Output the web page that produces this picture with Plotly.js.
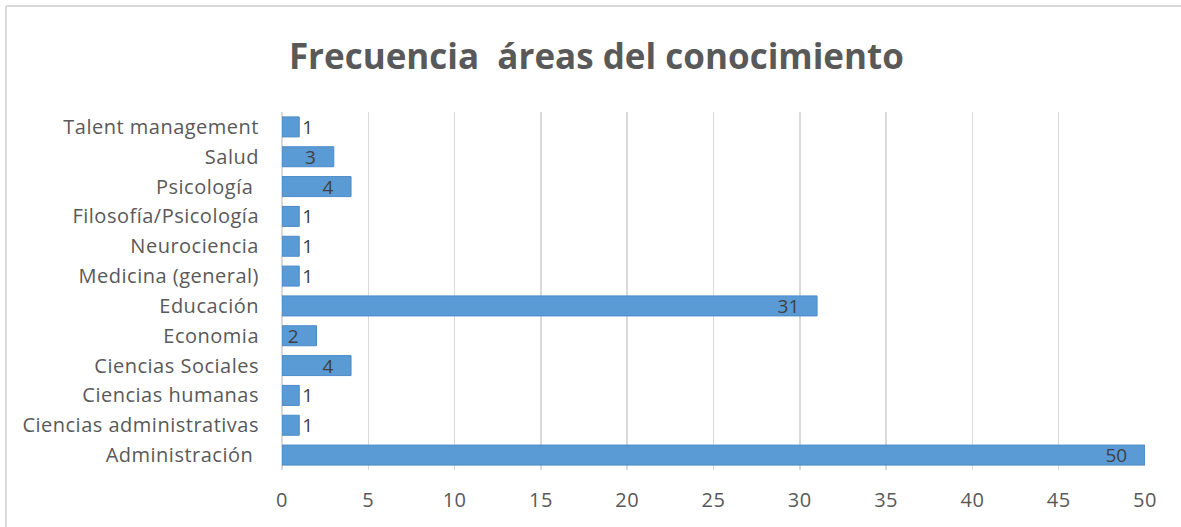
<!DOCTYPE html>
<html>
<head>
<meta charset="utf-8">
<script src="https://cdn.plot.ly/plotly-3.0.1.min.js"></script>
<style>
html,body{margin:0;padding:0;background:#fff;}
#chart{width:1181px;height:527px;}
#chart .ytick text, #chart .xtick text{letter-spacing:0.5px;}
</style>
</head>
<body>
<div id="chart"></div>
<script>
var categories = [
  "Administración ",
  "Ciencias administrativas",
  "Ciencias humanas",
  "Ciencias Sociales",
  "Economia",
  "Educación",
  "Medicina (general)",
  "Neurociencia",
  "Filosofía/Psicología",
  "Psicología ",
  "Salud",
  "Talent management"
];
var values = [50, 1, 1, 4, 2, 31, 1, 1, 1, 4, 3, 1];
var xTicks = [0, 5, 10, 15, 20, 25, 30, 35, 40, 45, 50];

var FONT = "'Open Sans', 'DejaVu Sans', sans-serif";

var trace = {
  type: "bar",
  orientation: "h",
  y: categories,
  x: values,
  text: values.map(function(v){ return v <= 1 ? String(v) : String(v) + "\u00a0\u00a0\u00a0"; }),
  textposition: values.map(function(v){ return v <= 1 ? "outside" : "inside"; }),
  insidetextanchor: "end",
  textangle: 0,
  constraintext: "none",
  cliponaxis: false,
  textfont: {family: FONT, size: 19, color: "#404040"},
  outsidetextfont: {family: FONT, size: 19, color: "#404040"},
  insidetextfont: {family: FONT, size: 19, color: "#404040"},
  marker: {color: "#5b9bd5", line: {color: "#4a8ac8", width: 1}},
  hoverinfo: "x+y"
};

var layout = {
  width: 1181,
  height: 527,
  margin: {l: 282, r: 36, t: 112, b: 57},
  paper_bgcolor: "#ffffff",
  plot_bgcolor: "#ffffff",
  bargap: 0.33,
  showlegend: false,
  title: {
    text: "<b>Frecuencia  áreas del conocimiento</b>",
    font: {family: FONT, size: 35, color: "#595959"},
    x: 0.505, xanchor: "center",
    y: 0.893, yanchor: "middle"
  },
  xaxis: {
    range: [0, 50],
    tickvals: xTicks,
    ticktext: xTicks.map(String),
    showgrid: true,
    gridcolor: "#d9d9d9",
    gridwidth: 1.5,
    zeroline: true,
    zerolinecolor: "#d9d9d9",
    zerolinewidth: 1.5,
    showline: false,
    ticks: "outside",
    ticklen: 12,
    tickcolor: "rgba(0,0,0,0)",
    tickfont: {family: FONT, size: 20, color: "#595959"},
    automargin: false,
    fixedrange: true
  },
  yaxis: {
    type: "category",
    categoryorder: "array",
    categoryarray: categories,
    showgrid: false,
    zeroline: false,
    showline: false,
    ticks: "outside",
    ticklen: 18,
    tickcolor: "rgba(0,0,0,0)",
    tickfont: {family: FONT, size: 20, color: "#595959"},
    automargin: false,
    fixedrange: true
  },
  shapes: [
    {type: "line", xref: "paper", yref: "paper",
     x0: (6 - 282) / 863, x1: (1181 - 282) / 863,
     y0: (470 - 6) / 358, y1: (470 - 6) / 358,
     line: {color: "#d9d9d9", width: 2}},
    {type: "line", xref: "paper", yref: "paper",
     x0: (6 - 282) / 863, x1: (6 - 282) / 863,
     y0: (470 - 6) / 358, y1: (470 - 527) / 358,
     line: {color: "#d9d9d9", width: 2}}
  ]
};

Plotly.newPlot("chart", [trace], layout, {displayModeBar: false, staticPlot: true});
</script>
</body>
</html>
